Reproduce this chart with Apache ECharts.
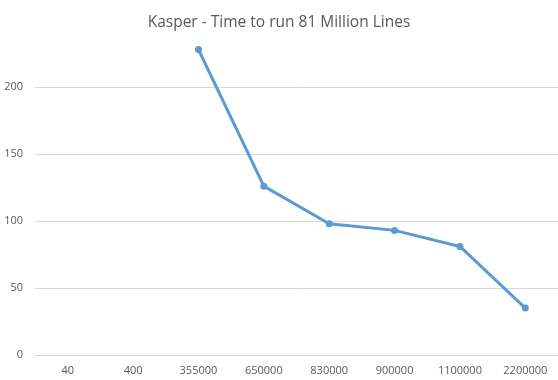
<!DOCTYPE html>
<html><head><meta charset="utf-8">
<script src="https://cdn.jsdelivr.net/npm/echarts@6/dist/echarts.min.js"></script>
<style>html,body{margin:0;padding:0;background:#fff}#c{width:558px;height:380px}</style>
</head><body><div id="c"></div>
<script>
const categories = ['40','400','355000','650000','830000','900000','1100000','2200000'];
const timeValues = [null, null, 228, 126, 98, 93, 81, 35];
const yTicks = [0, 50, 100, 150, 200, 250];

const chart = echarts.init(document.getElementById('c'));
chart.setOption({
  animation: false,
  title: {
    text: 'Kasper - Time to run 81 Million Lines',
    left: 'center', top: 10,
    textStyle: {fontFamily: 'Open Sans', fontSize: 15.5, fontWeight: 'normal', color: '#595959'}
  },
  grid: {left: 35, right: 0, top: 20, bottom: 25, containLabel: false},
  xAxis: {
    type: 'category', data: categories, boundaryGap: true,
    axisLine: {show: true, lineStyle: {color: '#d9d9d9'}},
    axisTick: {show: false},
    axisLabel: {color: '#595959', fontFamily: 'Open Sans', fontSize: 11, margin: 10, interval: 0}
  },
  yAxis: {
    type: 'value', min: yTicks[0], max: yTicks[yTicks.length-1], interval: 50,
    axisLine: {show: false}, axisTick: {show: false},
    axisLabel: {color: '#595959', fontFamily: 'Open Sans', fontSize: 11, margin: 12, showMaxLabel: false},
    splitLine: {show: true, showMaxLine: false, lineStyle: {color: '#d9d9d9', width: 1}}
  },
  series: [{
    type: 'line', data: timeValues, connectNulls: false,
    symbol: 'circle', symbolSize: 7,
    lineStyle: {color: '#5B9BD5', width: 3},
    itemStyle: {color: '#5B9BD5'}
  }]
});
</script></body></html>
